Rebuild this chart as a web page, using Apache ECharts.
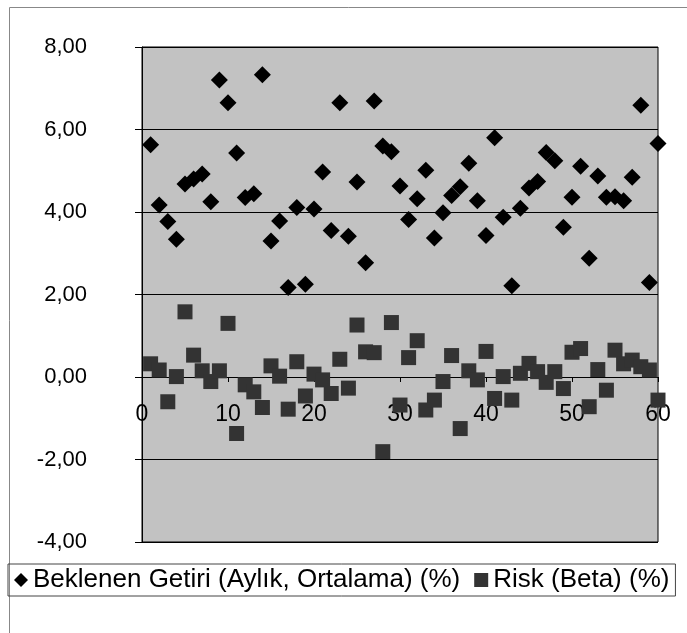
<!DOCTYPE html>
<html>
<head>
<meta charset="utf-8">
<script src="https://cdn.jsdelivr.net/npm/echarts@6/dist/echarts.min.js"></script>
<style>
html,body{margin:0;padding:0;background:#fff;}
#chart{width:687px;height:633px;}
</style>
</head>
<body>
<div id="chart"></div>
<script>
const periods = [1,2,3,4,5,6,7,8,9,10,11,12,13,14,15,16,17,18,19,20,
  21,22,23,24,25,26,27,28,29,30,31,32,33,34,35,36,37,38,39,40,
  41,42,43,44,45,46,47,48,49,50,51,52,53,54,55,56,57,58,59,60];

const beklenenGetiri = [5.63,4.17,3.77,3.34,4.68,4.80,4.92,4.25,7.20,6.65,
  5.43,4.35,4.44,7.33,3.30,3.78,2.17,4.11,2.25,4.07,
  4.97,3.55,6.65,3.41,4.73,2.77,6.69,5.60,5.46,4.63,
  3.82,4.32,5.01,3.37,3.98,4.40,4.61,5.18,4.27,3.43,
  5.80,3.87,2.21,4.09,4.58,4.74,5.44,5.24,3.63,4.36,
  5.11,2.88,4.87,4.36,4.37,4.27,4.84,6.59,2.29,5.66];

const riskBeta = [0.32,0.17,-0.60,0.01,1.58,0.53,0.15,-0.11,0.15,1.30,
  -1.37,-0.19,-0.36,-0.74,0.27,0.02,-0.78,0.37,-0.46,0.07,
  -0.07,-0.40,0.43,-0.27,1.26,0.61,0.59,-1.81,1.32,-0.68,
  0.47,0.88,-0.80,-0.56,-0.11,0.52,-1.25,0.15,-0.07,0.62,
  -0.52,0.01,-0.56,0.09,0.33,0.13,-0.13,0.13,-0.28,0.60,
  0.69,-0.72,0.18,-0.32,0.65,0.32,0.41,0.25,0.17,-0.56];

const seriesNames = ['Beklenen Getiri (Aylık, Ortalama) (%)', 'Risk (Beta) (%)'];
const yTicks = {min: -4, max: 8, interval: 2};
const xTicks = {min: 0, max: 60, interval: 10};

const chart = echarts.init(document.getElementById('chart'));
const font = "'Liberation Sans', Arial, sans-serif";

chart.setOption({
  animation: false,
  backgroundColor: '#ffffff',
  textStyle: {fontFamily: font},
  graphic: [{
    type: 'rect', left: 7, top: 5,
    shape: {width: 700, height: 660},
    style: {fill: 'none', stroke: '#888', lineWidth: 1}
  }],
  grid: {left: 142, right: 29, top: 47, bottom: 91,
    show: true, backgroundColor: '#c2c2c2', borderColor: '#000', borderWidth: 1},
  legend: {
    left: 8, top: 564,
    padding: [3, 6, 3, 6],
    borderColor: '#444', borderWidth: 1,
    itemGap: 14, itemWidth: 14, itemHeight: 14,
    textStyle: {fontSize: 26, color: '#000', fontFamily: font},
    data: [
      {name: seriesNames[0], icon: 'diamond', itemStyle: {color: '#000'}},
      {name: seriesNames[1], icon: 'rect', itemStyle: {color: '#333'}}
    ]
  },
  xAxis: {
    type: 'value', min: xTicks.min, max: xTicks.max, interval: xTicks.interval,
    position: 'bottom', offset: -165,
    axisLine: {onZero: false, lineStyle: {color: '#000', width: 1}},
    axisTick: {show: true, length: 5, lineStyle: {color: '#000'}},
    axisLabel: {fontSize: 23, color: '#000', margin: 26, fontFamily: font},
    splitLine: {show: false}
  },
  yAxis: {
    type: 'value', min: yTicks.min, max: yTicks.max, interval: yTicks.interval,
    axisLine: {show: true, onZero: false, lineStyle: {color: '#000'}},
    axisTick: {show: true, length: 7, lineStyle: {color: '#000'}},
    axisLabel: {fontSize: 22, color: '#000', margin: 55, fontFamily: font,
      formatter: v => v.toFixed(2).replace('.', ',')},
    splitLine: {show: true, lineStyle: {color: '#000', width: 1}}
  },
  series: [
    {
      name: seriesNames[0], type: 'scatter', symbol: 'diamond', symbolSize: 17,
      itemStyle: {color: '#000', opacity: 1},
      data: periods.map((p, i) => [p, beklenenGetiri[i]]),
      z: 3
    },
    {
      name: seriesNames[1], type: 'scatter', symbol: 'rect', symbolSize: 15,
      itemStyle: {color: '#333', opacity: 1},
      data: periods.map((p, i) => [p, riskBeta[i]]),
      z: 2
    }
  ]
});
</script>
</body>
</html>
